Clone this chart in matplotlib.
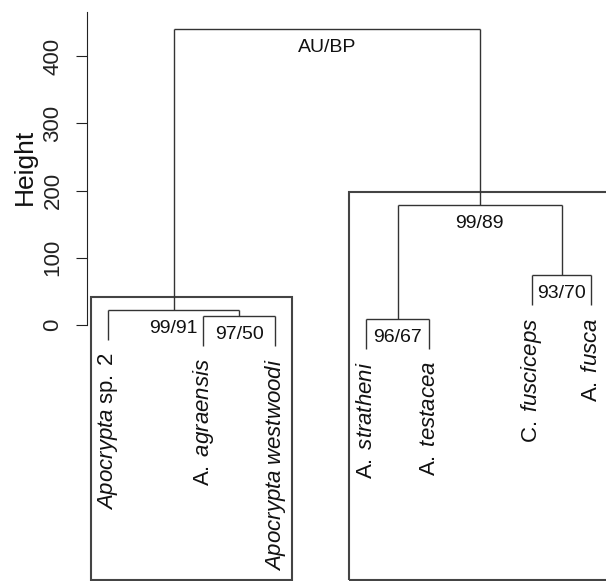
import matplotlib
matplotlib.use("Agg")
import matplotlib.pyplot as plt
from matplotlib.patches import Rectangle

plt.rcParams['font.family'] = ['Liberation Sans', 'DejaVu Sans']
plt.rcParams['mathtext.fontset'] = 'custom'
plt.rcParams['mathtext.rm'] = 'Liberation Sans'
plt.rcParams['mathtext.it'] = 'Liberation Sans:italic'

# leaves in plotting order
leaf_labels = [r"$\mathit{Apocrypta}\;\mathrm{sp.}\;\mathrm{2}$",
               r"$\mathrm{A.}\;\mathit{agraensis}$",
               r"$\mathit{Apocrypta}\;\mathit{westwoodi}$",
               r"$\mathrm{A.}\;\mathit{stratheni}$",
               r"$\mathrm{A.}\;\mathit{testacea}$",
               r"$\mathrm{C.}\;\mathit{fusciceps}$",
               r"$\mathrm{A.}\;\mathit{fusca}$"]
leaf_pos = [1.0, 2.06, 2.86, 3.87, 4.57, 5.71, 6.37]

# merges: (child a, child b, height, AU/BP label); leaves = ("L", i), nodes = ("N", j)
merge_a = [("L", 1), ("L", 0), ("L", 3), ("L", 5), ("N", 2), ("N", 1)]
merge_b = [("L", 2), ("N", 0), ("L", 4), ("L", 6), ("N", 3), ("N", 4)]
merge_h = [13, 22, 9, 74, 178, 440]
merge_lab = ["97/50", "99/91", "96/67", "93/70", "99/89", "AU/BP"]

# highlighted clusters (pvrect): node index
rect_nodes = [1, 4]

hang = 44
line_col = "#333333"

fig = plt.figure(figsize=(6.06, 5.81), dpi=100)
ax = fig.add_axes([87 / 606, 0, 1 - 87 / 606, 1])
ax.set_xlim(0.767, 6.533)
ax.set_ylim(-380.7, 483.3)

node_x = []
node_leaves = []


def child_info(c):
    kind, i = c
    if kind == "L":
        return leaf_pos[i], None, [i]
    return node_x[i], merge_h[i], node_leaves[i]


for a, b, h, lab in zip(merge_a, merge_b, merge_h, merge_lab):
    xa, ha, la = child_info(a)
    xb, hb, lb = child_info(b)
    for x, ch, kind_i in ((xa, ha, a), (xb, hb, b)):
        bottom = ch if ch is not None else h - hang
        ax.plot([x, x], [bottom, h], color=line_col, lw=1.0, solid_capstyle='butt')
        if ch is None:
            ax.annotate(leaf_labels[kind_i[1]], (x, bottom), xytext=(0, -9),
                        textcoords='offset points', rotation=90, ha='center',
                        va='top', fontsize=16, color='#111111')
    ax.plot([xa, xb], [h, h], color=line_col, lw=1.0, solid_capstyle='butt')
    xm = (xa + xb) / 2
    node_x.append(xm)
    node_leaves.append(la + lb)
    ax.annotate(lab, (xm, h), xytext=(0, -7), textcoords='offset points',
                ha='center', va='top', fontsize=14, color='#111111')

for n in rect_nodes:
    xs = [leaf_pos[i] for i in node_leaves[n]]
    left = min(xs) - 0.19
    right = max(xs) + 0.19
    top = merge_h[n] + 20
    ax.add_patch(Rectangle((left, -379), right - left, top + 379, fill=False,
                           edgecolor='#444444', lw=1.5, clip_on=False))

for s in ('top', 'right', 'bottom'):
    ax.spines[s].set_visible(False)
ax.spines['left'].set_bounds(0, 465)
ax.spines['left'].set_color('#222222')
ax.set_xticks([])
ax.set_yticks([0, 100, 200, 300, 400])
ax.set_yticklabels(["0", "100", "200", "300", "400"], rotation=90, va='center')
ax.tick_params(axis='y', length=8, pad=9, labelsize=16, colors='#222222')
ax.patch.set_visible(False)

fig.text(25 / 606, 1 - 167 / 581, "Height", rotation=90, ha='center',
         va='center', fontsize=19, color='#111111')

fig.savefig("out.png", dpi=100)
